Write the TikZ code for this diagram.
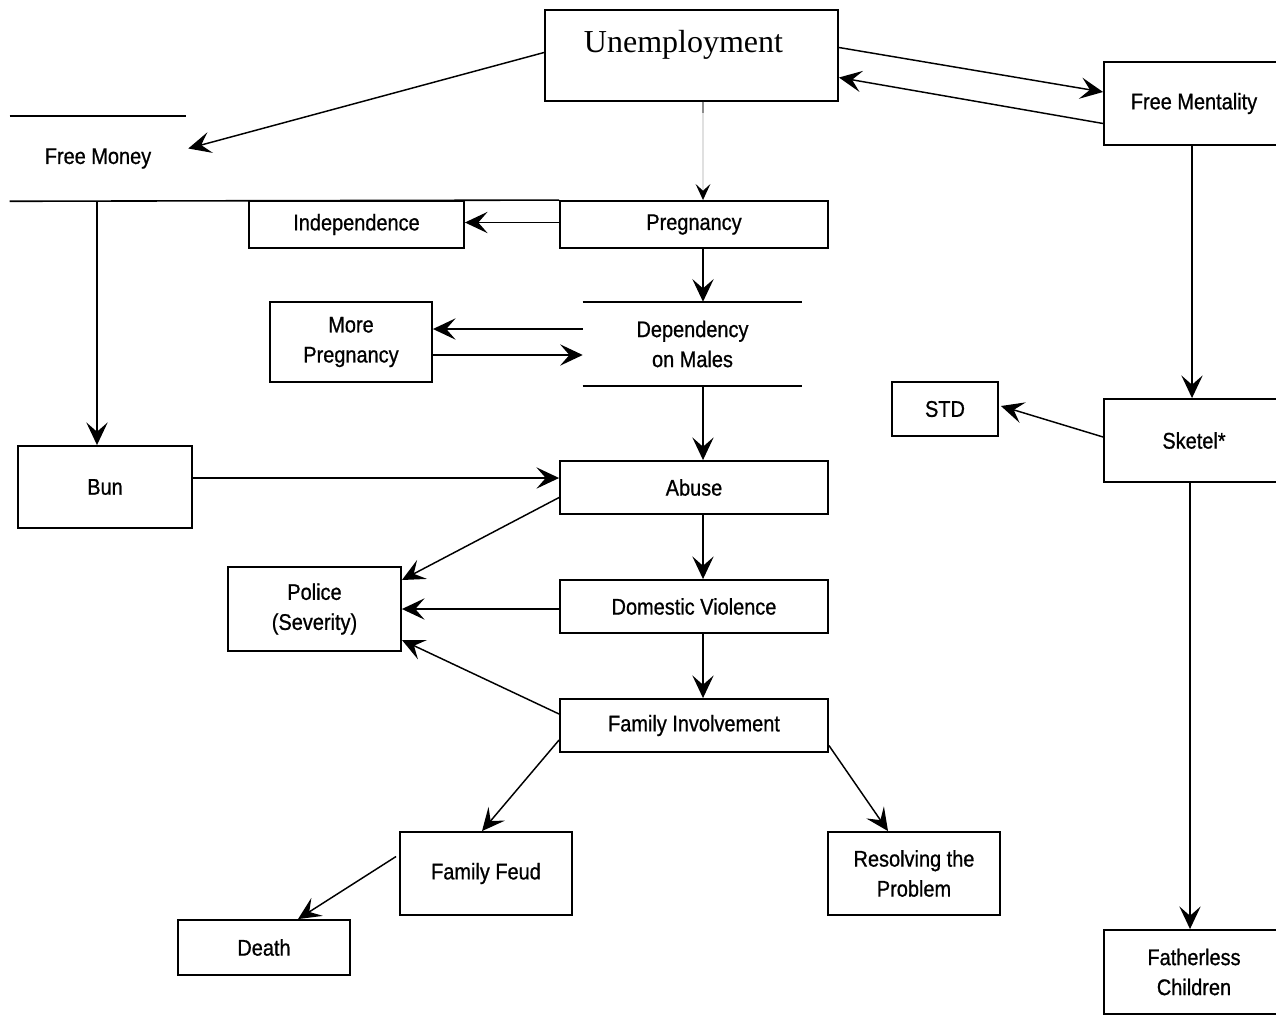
\documentclass[tikz,border=0pt]{standalone}
\usepackage{fontspec}
\setmainfont{Liberation Sans}[FakeStretch=0.88,FakeBold=0.8]
\newfontfamily\unfont{Liberation Serif}
\usetikzlibrary{arrows.meta,calc}
\begin{document}
\begin{tikzpicture}[x=0.75pt,y=-0.75pt,
  box/.style={draw, line width=1.4pt, inner sep=0pt, align=center, font=\fontsize{17}{22.5}\selectfont},
  openbox/.style={inner sep=0pt, align=center, font=\fontsize{17}{22.5}\selectfont},
  sz/.style 2 args={minimum width=#1*0.75pt, minimum height=#2*0.75pt},
  tip/.style={-{Stealth[length=17pt,width=16pt,inset=7pt,color=black]}},
  arr/.style={line width=1.1pt, tip},
  rule/.style={line width=1.2pt}]
\useasboundingbox (0,0) rectangle (1276,1014);
\fill[white] (0,0) rectangle (1276,1014);

\coordinate (ax) at (703,0);
\coordinate (bx) at (1192,0);
\coordinate (cx) at (97,0);

% nodes
\node[box, sz={293}{91}, text height=16.5pt, text depth=21.75pt,
      font=\unfont\fontsize{24}{28}\selectfont] (unemp) at (691.5,55.5) {Unemployment\hspace{12pt}};
\node[box, sz={180}{83}] (fment) at (1194,103.5) {Free Mentality};
\node[openbox, sz={176}{85}] (fm) at (98,158.5) {Free Money};
\node[box, sz={215}{47}] (indep) at (356.5,224.5) {Independence};
\node[box, sz={268}{47}] (preg) at (694,224.5) {Pregnancy};
\node[openbox, sz={219}{84}] (dep) at (692.5,344) {Dependency\\on Males};
\node[box, sz={162}{80}] (more) at (351,342) {More\\Pregnancy};
\node[box, sz={174}{82}] (bun) at (105,487) {Bun};
\node[box, sz={268}{53}] (abuse) at (694,487.5) {Abuse};
\node[box, sz={173}{84}] (police) at (314.5,609) {Police\\(Severity)};
\node[box, sz={268}{53}] (dv) at (694,606.5) {Domestic Violence};
\node[box, sz={268}{53}] (fi) at (694,725.5) {Family Involvement};
\node[box, sz={172}{83}] (feud) at (486,873.5) {Family Feud};
\node[box, sz={172}{83}] (resolve) at (914,873.5) {Resolving the\\Problem};
\node[box, sz={172}{55}] (death) at (264,947.5) {Death};
\node[box, sz={106}{54}] (std) at (945,409) {STD};
\node[box, sz={180}{83}] (sketel) at (1194,440.5) {Sketel*};
\node[box, sz={180}{84}] (father) at (1194,972) {Fatherless\\Children};

% rules of open boxes
\draw[rule] (fm.north west) -- (fm.north east);
\draw[rule] (fm.south west) -- (preg.north west);
\draw[rule] (dep.north west) -- (dep.north east);
\draw[rule] (dep.south west) -- (dep.south east);

% connectors
\draw[arr] ($(unemp.west)+(0,-3)$) -- ($(fm.east)+(2,-10)$);
\draw[arr] ($(unemp.east)+(0,-8)$) -- ($(fment.west)+(0,-11.5)$);
\draw[arr] ($(fment.west)+(0,20)$) -- ($(unemp.east)+(0,22)$);
\draw[line width=1.1pt, black!12, -{Stealth[length=12pt,width=11pt,inset=5pt,color=black]}] (unemp.south -| ax) -- (preg.north -| ax);
\draw[line width=1pt, black!45] (unemp.south -| ax) -- ++(0,11);
\draw[arr] ($(preg.west)+(0,-2)$) -- ($(indep.east)+(0,-2)$);
\draw[arr] (preg.south -| ax) -- (dep.north -| ax);
\draw[arr] ($(dep.west)+(0,-15)$) -- ($(more.east)+(0,-13)$);
\draw[arr] ($(more.east)+(0,13)$) -- ($(dep.west)+(0,11)$);
\draw[arr] (dep.south -| ax) -- (abuse.north -| ax);
\draw[arr] (fm.south -| cx) -- (bun.north -| cx);
\draw[arr] ($(bun.east)+(0,-9)$) -- ($(abuse.west)+(0,-9.5)$);
\draw[arr] ($(abuse.west)+(0,10)$) -- ($(police.east)+(0,-29)$);
\draw[arr] (abuse.south -| ax) -- (dv.north -| ax);
\draw[arr] ($(dv.west)+(0,2.5)$) -- (police.east);
\draw[arr] (dv.south -| ax) -- (fi.north -| ax);
\draw[arr] ($(fi.west)+(0,-11.5)$) -- ($(police.east)+(0,31)$);
\draw[arr] ($(fi.west)+(0,14.5)$) -- ($(feud.north)+(-4,0)$);
\draw[arr] ($(fi.east)+(0,20)$) -- ($(resolve.north)+(-26,0)$);
\draw[arr] ($(feud.west)+(-3,-17)$) -- ($(death.north)+(34,0)$);
\draw[arr] (fment.south -| bx) -- (sketel.north -| bx);
\draw[arr] ($(sketel.west)+(0,-3.5)$) -- ($(std.east)+(2,-3)$);
\draw[arr] ($(sketel.south)+(-4,0)$) -- ($(father.north)+(-4,0)$);
\end{tikzpicture}
\end{document}
